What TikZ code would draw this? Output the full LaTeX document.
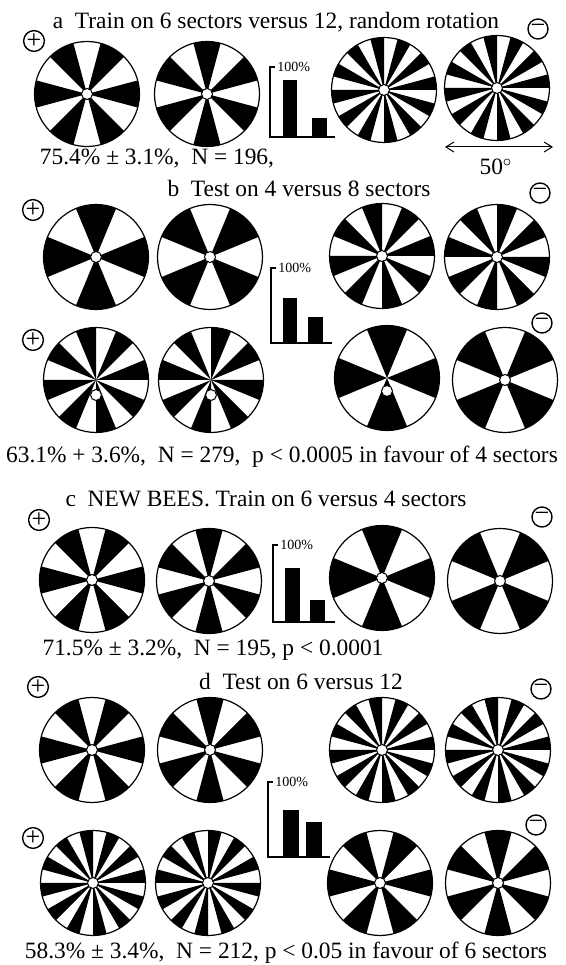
\documentclass[tikz,border=0pt]{standalone}
\usepackage{fontspec}
\setmainfont{Liberation Serif}
\usetikzlibrary{arrows.meta}

\begin{document}
\begin{tikzpicture}[
    x=0.5pt, y=0.5pt,
    rim/.style={draw, line width=0.6pt},
    hole/.style={draw, fill=white, line width=0.5pt},
    sign/.style={circle, draw, line width=0.7pt, minimum size=10pt, inner sep=0pt, font=\fontsize{13}{13}\selectfont},
    caption/.style={anchor=base, inner sep=0pt, font=\fontsize{11.7}{14}\selectfont},
    pct/.style={anchor=west, inner sep=0pt, font=\fontsize{7}{8}\selectfont},
    axis/.style={line width=0.6pt},
    bar/.style={fill=black},
    spanarrow/.style={{Straight Barb[length=4pt,width=5pt]}-{Straight Barb[length=4pt,width=5pt]}, line width=0.5pt},
    pics/wheel/.style n args={3}{code={
        \pgfmathsetmacro\half{90/#1}
        \foreach \k in {1,...,#1}{
            \pgfmathsetmacro\ang{#2+360*(\k-1)/#1-\half}
            \fill (0,0) -- (\ang:52.5) arc[start angle=\ang, delta angle=2*\half, radius=52.5] -- cycle;
        }
        \draw[rim] (0,0) circle[radius=52.5];
        \draw[hole] (0,-#3) circle[radius=5.5];
    }}
]
    \useasboundingbox (0,0) rectangle (566,965);

    % a
    \node[caption] (capA) at (276,936) {a\enspace Train on 6 sectors versus 12, random rotation};
    \node[sign] (plusA) at (34,924) {+};
    \node[sign] (minusA) at (538,936) {−};
    \pic at (87,871) {wheel={6}{0}{0}};
    \pic at (207,871) {wheel={6}{30}{0}};
    \pic at (384,875) {wheel={12}{7.5}{0}};
    \pic at (497,877) {wheel={12}{7.5}{0}};
    \draw[axis] (275,898) -- (270,898) -- (270,828) -- (335,828);
    \node[pct] (pctA) at (277,898) {100\%};
    \fill[bar] (283,828) rectangle (297,885);
    \fill[bar] (312,828) rectangle (327,847);
    \coordinate (spanL) at (445,818);
    \coordinate (spanR) at (553,818);
    \draw[spanarrow] (spanL) -- (spanR);
    \node[caption] (deg) at (496,790) {50$^{\circ}$};
    \node[caption] (resA) at (157,800) {75.4\% ± 3.1\%,\enspace N = 196,};

    % b
    \node[caption] (capB) at (299,768) {b\enspace Test on 4 versus 8 sectors};
    \node[sign] (plusB) at (33,755) {+};
    \node[sign] (minusB) at (540,772) {−};
    \pic at (96,708) {wheel={4}{0}{0}};
    \pic at (210,708) {wheel={4}{45}{0}};
    \pic at (382,709) {wheel={8}{11.25}{0}};
    \pic at (497,708) {wheel={8}{33.75}{0}};
    \node[sign] (plusBB) at (33,625) {+};
    \node[sign] (minusBB) at (542,642) {−};
    \pic at (96,585) {wheel={8}{11.25}{15}};
    \pic at (211,585) {wheel={8}{33.75}{15}};
    \pic at (387,587) {wheel={4}{0}{13}};
    \pic at (505,585) {wheel={4}{45}{0}};
    \draw[axis] (276,697) -- (271,697) -- (271,622) -- (332,622);
    \node[pct] (pctB) at (278,697) {100\%};
    \fill[bar] (283,622) rectangle (297,667);
    \fill[bar] (308,622) rectangle (323,648);
    \node[caption] (resB) at (282,502) {63.1\% + 3.6\%,\enspace N = 279,\enspace p < 0.0005 in favour of 4 sectors};

    % c
    \node[caption] (capC) at (266,458) {c\enspace NEW BEES. Train on 6 versus 4 sectors};
    \node[sign] (plusC) at (39,445) {+};
    \node[sign] (minusC) at (542,448) {−};
    \pic at (92,385) {wheel={6}{0}{0}};
    \pic at (209,384) {wheel={6}{30}{0}};
    \pic at (382,387) {wheel={4}{0}{0}};
    \pic at (500,384) {wheel={4}{45}{0}};
    \draw[axis] (278,420) -- (273,420) -- (273,343) -- (335,343);
    \node[pct] (pctC) at (280,420) {100\%};
    \fill[bar] (285,343) rectangle (300,397);
    \fill[bar] (310,343) rectangle (325,365);
    \node[caption] (resC) at (213,309) {71.5\% ± 3.2\%,\enspace N = 195, p < 0.0001};

    % d
    \node[caption] (capD) at (301,275) {d\enspace Test on 6 versus 12};
    \node[sign] (plusD) at (38,278) {+};
    \node[sign] (minusD) at (541,276) {−};
    \pic at (92,215) {wheel={6}{0}{0}};
    \pic at (210,215) {wheel={6}{30}{0}};
    \pic at (382,215) {wheel={12}{7.5}{0}};
    \pic at (498,215) {wheel={12}{7.5}{0}};
    \node[sign] (plusDD) at (33,127) {+};
    \node[sign] (minusDD) at (536,140) {−};
    \pic at (93,82) {wheel={12}{7.5}{0}};
    \pic at (208,82) {wheel={12}{22.5}{0}};
    \pic at (380,82) {wheel={6}{0}{0}};
    \pic at (498,82) {wheel={6}{30}{0}};
    \draw[axis] (273,183) -- (268,183) -- (268,108) -- (330,108);
    \node[pct] (pctD) at (275,183) {100\%};
    \fill[bar] (283,108) rectangle (299,155);
    \fill[bar] (306,108) rectangle (322,143);
    \node[caption] (resD) at (286,6) {58.3\% ± 3.4\%,\enspace N = 212, p < 0.05 in favour of 6 sectors};
\end{tikzpicture}
\end{document}
